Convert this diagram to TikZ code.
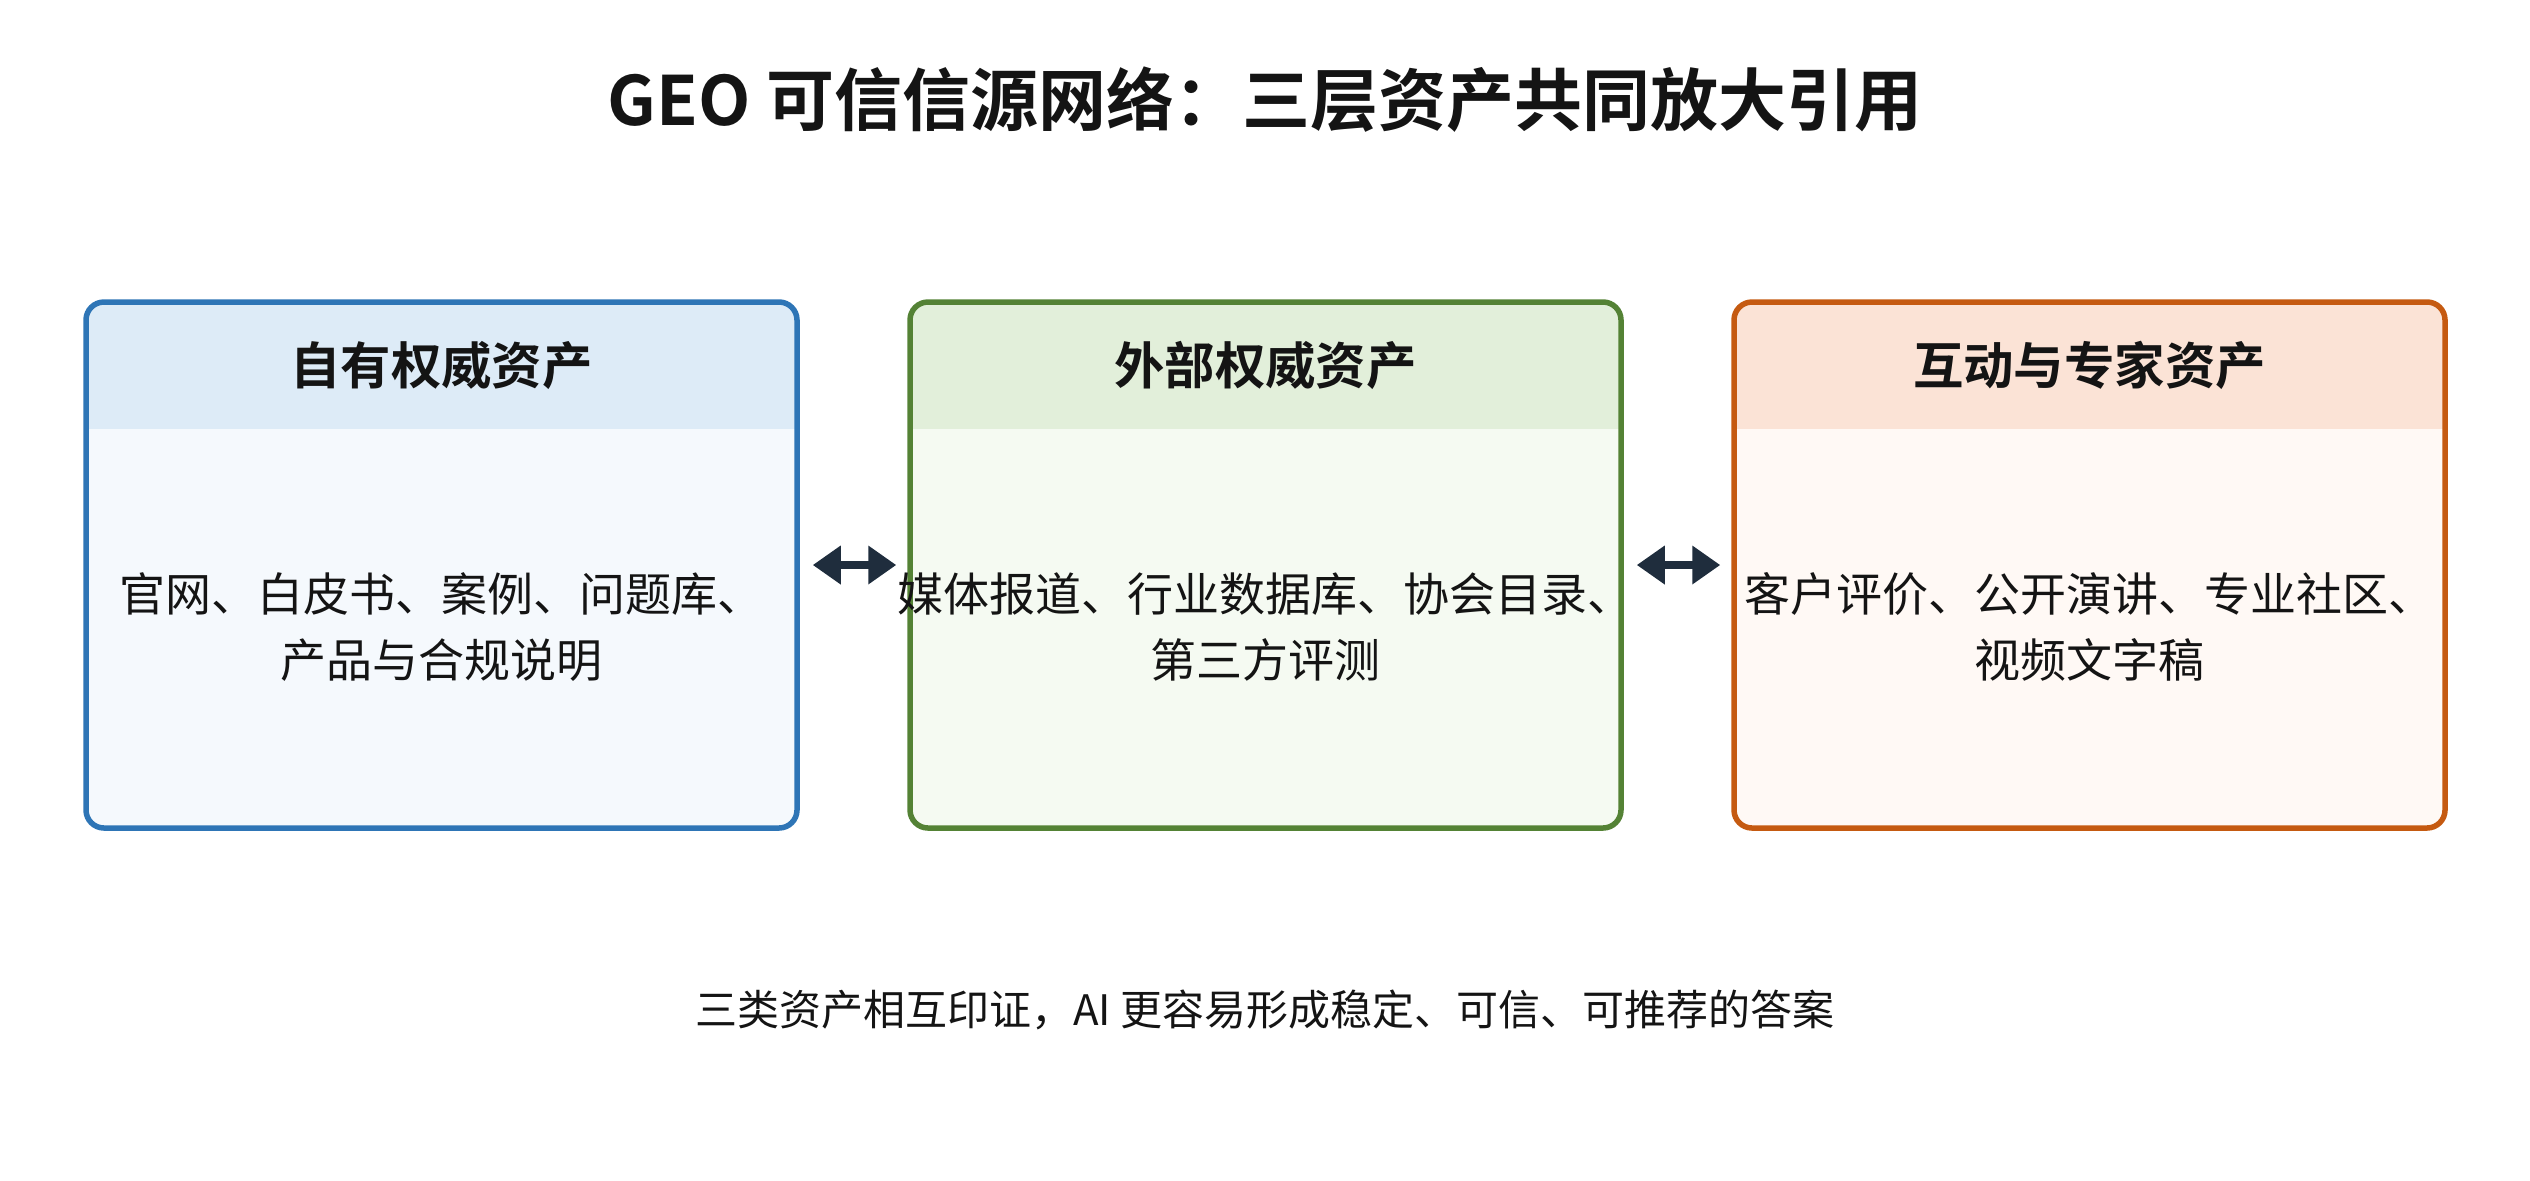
\documentclass[tikz,border=0pt]{standalone}
\usepackage{fontspec}
\setmainfont{Noto Sans CJK SC}[BoldFont={Noto Sans CJK SC Bold}]
\usetikzlibrary{positioning,arrows.meta}

\definecolor{ink}{HTML}{141414}
\definecolor{ownline}{HTML}{2E75B6}
\definecolor{ownhead}{HTML}{DDEBF7}
\definecolor{ownbody}{HTML}{F5F9FD}
\definecolor{extline}{HTML}{548235}
\definecolor{exthead}{HTML}{E2EFDA}
\definecolor{extbody}{HTML}{F5FAF2}
\definecolor{intline}{HTML}{C55A11}
\definecolor{inthead}{HTML}{FBE3D6}
\definecolor{intbody}{HTML}{FFF9F5}
\definecolor{linkc}{HTML}{1F2D3D}

\tikzstyle{asset} = [draw, rectangle, rounded corners=9pt, line width=2.75pt,
  minimum width=355.5pt, minimum height=263pt,
  path picture={\fill[#1, sharp corners] (path picture bounding box.north west) rectangle
    ([yshift=-63.5pt]path picture bounding box.north east);}]
\tikzstyle{headtext} = [rectangle, minimum height=63.5pt, text=ink,
  font=\bfseries\fontsize{25.2}{30}\selectfont]
\tikzstyle{bodytext} = [rectangle, minimum height=199.5pt, align=center, text=ink,
  font=\fontsize{23}{33}\selectfont]
\tikzstyle{link} = [{Triangle[length=14pt,width=18.5pt]}-{Triangle[length=14pt,width=18.5pt]},
  line width=4pt, draw=linkc]

\begin{document}
\begin{tikzpicture}[x=0.5pt, y=-0.5pt, node distance=53.75pt]
  \useasboundingbox (0,0) rectangle (2530,1180);
  \node [text=ink, font=\bfseries\fontsize{34}{40}\selectfont] (title) at (1265,100)
    {GEO 可信信源网络：三层资产共同放大引用};

  \node [asset=ownhead, draw=ownline, fill=ownbody] (own) at (441.5,565) {};
  \node [asset=exthead, draw=extline, fill=extbody, right=of own] (ext) {};
  \node [asset=inthead, draw=intline, fill=intbody, right=of ext] (int) {};

  \node [headtext, below=1pt of own.north] (ownh) {自有权威资产};
  \node [headtext, below=1pt of ext.north] (exth) {外部权威资产};
  \node [headtext, below=1pt of int.north] (inth) {互动与专家资产};

  \node [bodytext, below=-1pt of ownh] (ownb) {官网、白皮书、案例、问题库、\\产品与合规说明};
  \node [bodytext, below=-1pt of exth] (extb) {媒体报道、行业数据库、协会目录、\\第三方评测};
  \node [bodytext, below=-1pt of inth] (intb) {客户评价、公开演讲、专业社区、\\视频文字稿};

  \draw [link, shorten <=6.5pt, shorten >=5.5pt] (own.east) -- (ext.west);
  \draw [link, shorten <=6.5pt, shorten >=5.5pt] (ext.east) -- (int.west);

  \node [text=ink, font=\fontsize{21}{26}\selectfont] (note) at (1265,1010)
    {三类资产相互印证，AI 更容易形成稳定、可信、可推荐的答案};
\end{tikzpicture}
\end{document}
